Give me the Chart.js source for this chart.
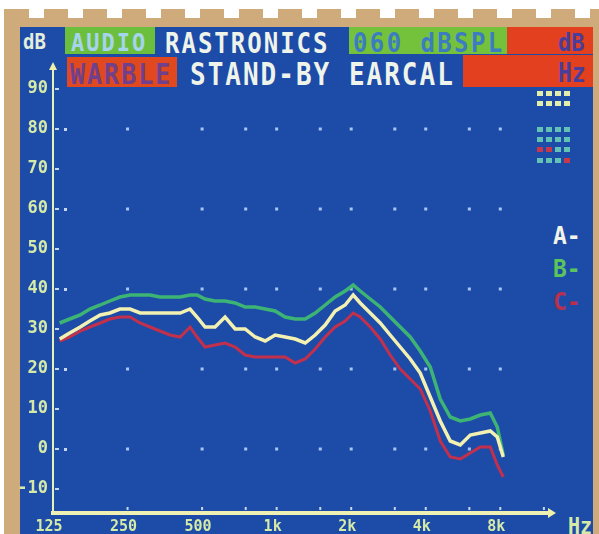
<!DOCTYPE html>
<html>
<head>
<meta charset="utf-8">
<script src="https://cdn.jsdelivr.net/npm/chart.js@4.4.1/dist/chart.umd.min.js"></script>
<style>
  html, body { margin: 0; padding: 0; }
  body {
    width: 599px; height: 534px; position: relative; overflow: hidden;
    background: #cfaa7a;
    font-family: "DejaVu Sans Mono", monospace; font-weight: bold;
  }
  #edgeTop { position: absolute; left: 0; top: 0; width: 599px; height: 9px; background: #fff; }
  #notch {
    position: absolute; left: 5px; top: 9px; width: 594px; height: 9px;
    background: repeating-linear-gradient(90deg, #cfaa7a 0 24px, #fff 24px 39px);
  }
  #edgeLeft { position: absolute; left: 0; top: 0; width: 4px; height: 534px; background: #fff; }
  #screen { position: absolute; left: 20px; top: 27px; width: 573px; height: 507px; background: #1d4ba8; }
  .box { position: absolute; }
  .t { position: absolute; white-space: pre; line-height: 1; transform-origin: 0 0; }
  #wrap { position: absolute; left: 0; top: 0; width: 599px; height: 534px; }
  .cells { position: absolute; left: 537px; display: flex; gap: 3px; }
  .cells span { display: block; width: 6px; height: 5px; }
</style>
</head>
<body>
<div id="edgeTop"></div>
<div id="notch"></div>
<div id="edgeLeft"></div>
<div id="screen"></div>

<!-- header strip -->
<div class="box" style="left:65px;top:27px;width:90px;height:27px;background:#6cbf3c"></div>
<div class="box" style="left:349px;top:27px;width:158px;height:27px;background:#74c23c"></div>
<div class="box" style="left:507px;top:27px;width:86px;height:27px;background:#e2401e"></div>
<div class="box" style="left:67px;top:57px;width:110px;height:30px;background:#e04820"></div>
<div class="box" style="left:463px;top:55px;width:130px;height:32px;background:#e2401e"></div>

<div class="t" style="left:23px;top:31px;font-size:19px;color:#e4eedc;transform:scaleY(1.1)">dB</div>
<div class="t" style="left:71px;top:30px;font-size:22px;letter-spacing:2px;color:#a6d4ea;transform:scaleY(1.15)">AUDIO</div>
<div class="t" style="left:165px;top:30px;font-size:24px;letter-spacing:2px;color:#eef4ea;transform:scaleY(1.15)">RASTRONICS</div>
<div class="t" style="left:353px;top:30px;font-size:24px;letter-spacing:2.4px;color:#3c7cc0;transform:scaleY(1.1)">060 dBSPL</div>
<div class="t" style="left:558px;top:30px;font-size:22px;color:#4a3e9c;transform:scaleY(1.15)">dB</div>
<div class="t" style="left:70px;top:61px;font-size:25px;letter-spacing:2px;color:#70408c;transform:scaleY(1.1)">WARBLE</div>
<div class="t" style="left:190px;top:59px;font-size:26px;letter-spacing:2px;color:#eef4ea;transform:scaleY(1.2)">STAND-BY EARCAL</div>
<div class="t" style="left:558px;top:60px;font-size:23px;color:#4a3e9c;transform:scaleY(1.15)">Hz</div>

<!-- memory cells at the right -->
<div class="cells" style="top:91px"><span style="background:#e2eeaa"></span><span style="background:#e2eeaa"></span><span style="background:#e2eeaa"></span><span style="background:#e2eeaa"></span></div>
<div class="cells" style="top:101px"><span style="background:#e2eeaa"></span><span style="background:#e2eeaa"></span><span style="background:#e2eeaa"></span><span style="background:#e2eeaa"></span></div>
<div class="cells" style="top:127px"><span style="background:#62c2b4"></span><span style="background:#62c2b4"></span><span style="background:#62c2b4"></span><span style="background:#62c2b4"></span></div>
<div class="cells" style="top:137px"><span style="background:#62c2b4"></span><span style="background:#62c2b4"></span><span style="background:#62c2b4"></span><span style="background:#62c2b4"></span></div>
<div class="cells" style="top:147px"><span style="background:#c8384a"></span><span style="background:#c8384a"></span><span style="background:#62c2b4"></span><span style="background:#62c2b4"></span></div>
<div class="cells" style="top:158px"><span style="background:#62c2b4"></span><span style="background:#62c2b4"></span><span style="background:#62c2b4"></span><span style="background:#c8384a"></span></div>

<!-- curve keys -->
<div class="t" style="left:553px;top:223px;font-size:23px;color:#f2f4ea;transform:scaleY(1.1)">A-</div>
<div class="t" style="left:553px;top:256px;font-size:23px;color:#5cc45c;transform:scaleY(1.1)">B-</div>
<div class="t" style="left:553px;top:289px;font-size:23px;color:#b8304c;transform:scaleY(1.1)">C-</div>

<div class="t" style="left:568px;top:514px;font-size:20px;color:#d6eaa8;transform:scaleY(1.15)">Hz</div>

<div id="wrap"><canvas id="chart" width="599" height="534"></canvas></div>

<script>
// sweep frequencies (Hz) and the three measured curves (dB SPL)
const freqs = [133, 146, 161, 176, 194, 212, 233, 256, 281, 308, 338, 371, 408, 447, 477,
  514, 564, 619, 680, 746, 819, 899, 986, 1082, 1188, 1304, 1431, 1570, 1723, 1891, 2038,
  2175, 2387, 2620, 2874, 3155, 3463, 3800, 4171, 4578, 5024, 5514, 6051, 6642, 7290, 7779, 8225];

const curveA = [27.5, 29, 30.5, 32, 33.5, 34, 35, 35, 34, 34, 34, 34, 34, 35, 33,
  30.5, 30.5, 33, 30, 30, 28, 27, 28.5, 28, 27.5, 26.5, 28.5, 31, 34.5, 36, 38.5,
  36.5, 34, 31.5, 28.5, 25.5, 22.5, 19, 13, 7, 2, 1, 3.5, 4, 4.5, 3, -2];

const curveB = [31.5, 32.5, 33.5, 35, 36, 37, 38, 38.5, 38.5, 38.5, 38, 38, 38, 38.5, 38.5,
  37.5, 37, 37, 36.5, 35.5, 35.5, 35, 34.5, 33, 32.5, 32.5, 34, 36, 38, 39.5, 41,
  39.5, 37.5, 35.5, 33, 30.5, 28, 24.5, 20.5, 12.5, 8, 7, 7.5, 8.5, 9, 5.5, -1.5];

const curveC = [27, 28, 29.5, 30.5, 31.5, 32.5, 33, 33, 31.5, 30.5, 29.5, 28.5, 28, 30.5, 28,
  25.5, 26, 26.5, 25.5, 23.5, 23, 23, 23, 23, 21.5, 22.5, 25, 28, 30.5, 32, 34,
  33, 30.5, 27.5, 23.5, 20, 17.5, 15, 9.5, 2, -2, -2.5, -1, 0.5, 0.5, -4, -7];

// axis labelling
const freqTicks = [125, 250, 500, 1000, 2000, 4000, 8000];
const freqTickLabels = ['125', '250', '500', '1k', '2k', '4k', '8k'];
const minorFreqs = [250, 500, 750, 1000, 1500, 2000, 3000, 4000, 6000, 8000, 12000];
const gridFreqs = [250, 500, 750, 1000, 1500, 2000, 3000, 4000, 6000, 8000];
const dbTicks = [-10, 0, 10, 20, 30, 40, 50, 60, 70, 80, 90];
const gridLevels = [80, 60, 40, 20, 0];

const toPoints = ys => freqs.map((f, i) => ({ x: f, y: ys[i] }));

const axisColor = '#e4efbc';
const labelColor = '#d6eaa8';

// dotted grid, axis lines with arrows and the little tick marks
const screenMarks = {
  id: 'screenMarks',
  beforeDatasetsDraw(chart) {
    const { ctx, chartArea, scales: { x, y } } = chart;
    ctx.save();

    ctx.fillStyle = '#a8c6f0';
    gridLevels.forEach(lv => {
      const py = y.getPixelForValue(lv);
      gridFreqs.forEach(f => {
        const px = x.getPixelForValue(f);
        ctx.fillRect(px - 1.5, py - 1.5, 3, 3);
      });
    });

    // y axis
    const x0 = chartArea.left;
    const yb = chartArea.bottom;
    ctx.strokeStyle = axisColor;
    ctx.lineWidth = 2;
    ctx.beginPath();
    ctx.moveTo(x0, yb);
    ctx.lineTo(x0, chartArea.top + 4);
    ctx.stroke();
    ctx.fillStyle = '#f0f0a8';
    ctx.beginPath();
    ctx.moveTo(x0, chartArea.top - 3);
    ctx.lineTo(x0 - 4, chartArea.top + 5);
    ctx.lineTo(x0 + 4, chartArea.top + 5);
    ctx.closePath();
    ctx.fill();

    // x axis
    ctx.strokeStyle = '#eef0b4';
    ctx.lineWidth = 4;
    ctx.beginPath();
    ctx.moveTo(x0 - 2, yb);
    ctx.lineTo(chartArea.right, yb);
    ctx.stroke();
    ctx.beginPath();
    ctx.moveTo(chartArea.right + 6, yb);
    ctx.lineTo(chartArea.right - 2, yb - 5);
    ctx.lineTo(chartArea.right - 2, yb + 5);
    ctx.closePath();
    ctx.fill();

    // ticks beside the y axis
    ctx.fillStyle = '#c4d8ee';
    dbTicks.forEach(v => {
      const py = y.getPixelForValue(v);
      ctx.fillRect(x0 + 2, py - 1, 4, 2);
      if (gridLevels.includes(v)) ctx.fillRect(x0 + 11, py - 1, 3, 3);
    });

    // ticks above the x axis
    minorFreqs.forEach(f => {
      const px = x.getPixelForValue(f);
      ctx.fillRect(px - 1, yb - 6, 2, 3);
    });

    ctx.restore();
  }
};

const tickFont = { family: 'DejaVu Sans Mono', weight: 'bold' };

new Chart(document.getElementById('chart'), {
  type: 'line',
  data: {
    datasets: [
      { label: 'A', data: toPoints(curveA), borderColor: '#f3f1b2', borderWidth: 3.5 },
      { label: 'B', data: toPoints(curveB), borderColor: '#3db474', borderWidth: 3.5 },
      { label: 'C', data: toPoints(curveC), borderColor: '#c3304c', borderWidth: 3 }
    ]
  },
  options: {
    responsive: false,
    animation: false,
    layout: { padding: { left: 0, right: 49, top: 65, bottom: 0 } },
    elements: { point: { radius: 0 }, line: { tension: 0 } },
    plugins: { legend: { display: false }, tooltip: { enabled: false } },
    scales: {
      x: {
        type: 'logarithmic',
        min: 125,
        max: 12700,
        grid: { display: false, drawTicks: false },
        border: { display: false },
        afterBuildTicks: s => { s.ticks = freqTicks.map(v => ({ value: v })); },
        afterFit: s => { s.height = 21; },
        ticks: {
          autoSkip: false,
          maxRotation: 0,
          padding: 5,
          labelOffset: -4,
          color: labelColor,
          font: { ...tickFont, size: 15 },
          callback: (v, i) => freqTickLabels[i]
        }
      },
      y: {
        min: -16,
        max: 96,
        grid: { display: false, drawTicks: false },
        border: { display: false },
        afterBuildTicks: s => { s.ticks = dbTicks.map(v => ({ value: v })); },
        afterFit: s => { s.width = 53; },
        ticks: {
          padding: 5,
          color: labelColor,
          font: { ...tickFont, size: 17 },
          callback: v => String(v)
        }
      }
    }
  },
  plugins: [screenMarks]
});
</script>
</body>
</html>
